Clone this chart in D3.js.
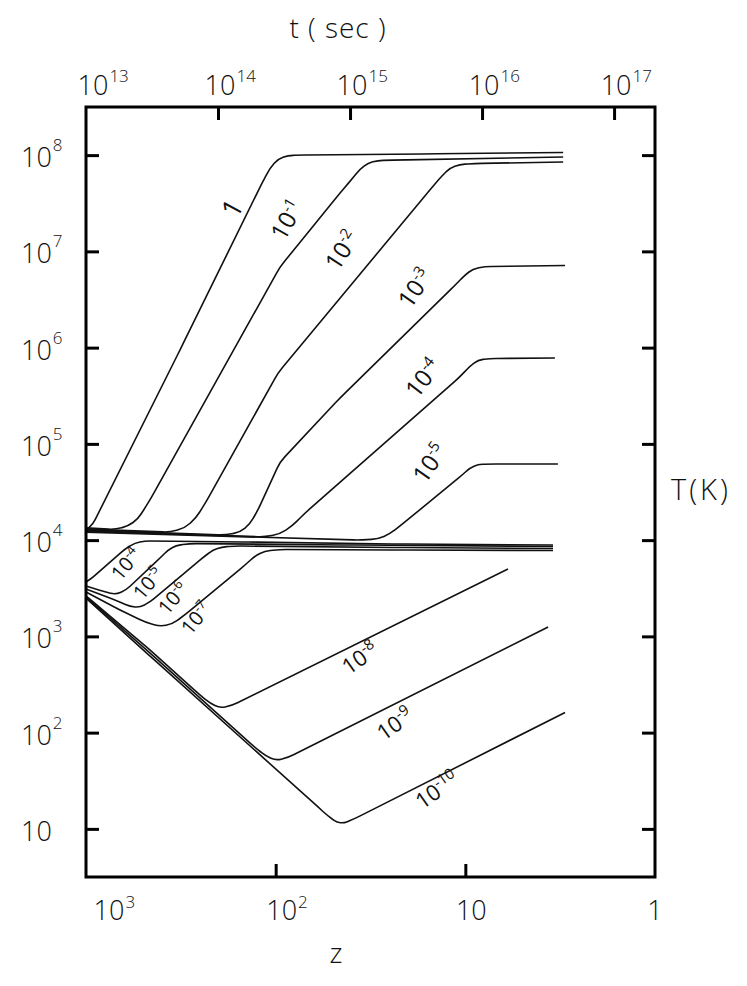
<!DOCTYPE html>
<html><head><meta charset="utf-8">
<script src="https://cdn.jsdelivr.net/npm/d3@7"></script>
<style>body{margin:0;background:#fff}svg text{font-family:'Open Sans','DejaVu Sans',sans-serif;font-weight:300;fill:#111}</style>
</head><body><svg id="c" width="747" height="986"></svg>
<script>
// ---------- DATA ----------
const zTicks = [1000, 100, 10, 1];
const zTickBase = ["10", "10", "10", "1"];
const zTickExp = ["3", "2", "", ""];
const tTicks = [1e13, 1e14, 1e15, 1e16, 1e17];
const tTickBase = ["10", "10", "10", "10", "10"];
const tTickExp = ["13", "14", "15", "16", "17"];
const TTicks = [1e8, 1e7, 1e6, 1e5, 1e4, 1e3, 1e2, 10];
const TTickBase = ["10", "10", "10", "10", "10", "10", "10", "10"];
const TTickExp = ["8", "7", "6", "5", "4", "3", "2", ""];

// series: [z, T(K)]  (upper family)
const heat_1 = [[1000,1.27e4],[919,1.47e4],[319.5,9.45e5],[118,5.13e7],[107,7.35e7],[97.2,9.11e7],[86.1,9.91e7],[74.4,1.0e8],[15.4,1.03e8],[3.05,1.065e8]];
const heat_m1 = [[1000,1.34e4],[703,1.29e4],[600,1.40e4],[532,1.66e4],[460,2.61e4],[94.9,6.88e6],[45.8,4.04e7],[39.6,5.65e7],[35.9,7.17e7],[32.6,8.28e7],[28.9,8.80e7],[22.1,8.90e7],[3.05,9.56e7]];
const heat_m2 = [[1000,1.30e4],[361,1.21e4],[301,1.34e4],[263,1.70e4],[233,2.49e4],[97.2,5.45e5],[15.4,4.34e7],[13.3,6.07e7],[12.05,7.35e7],[10.7,7.99e7],[8.89,8.19e7],[3.05,8.48e7]];
const heat_m3 = [[1000,1.27e4],[185,1.13e4],[154,1.21e4],[136.6,1.47e4],[124,2.06e4],[94.9,6.48e4],[45.8,3.00e5],[11.3,4.47e6],[10.04,5.68e6],[9.11,6.56e6],[7.88,6.96e6],[2.98,7.13e6]];
const heat_m4 = [[1000,1.24e4],[114,1.08e4],[94.9,1.16e4],[82.0,1.40e4],[70.0,1.91e4],[10.7,4.95e5],[9.45,6.44e5],[8.57,7.43e5],[7.41,7.71e5],[3.37,7.80e5]];
const heat_m5 = [[1000,1.21e4],[35.9,1.00e4],[28.9,1.03e4],[25.0,1.16e4],[22.1,1.40e4],[10.4,4.75e4],[9.45,5.62e4],[8.57,6.11e4],[7.41,6.18e4],[3.25,6.18e4]];
// lower family
const low_m4 = [[1000,3.67e3],[930,4.04e3],[623,8.09e3],[552,9.34e3],[489,9.79e3],[136.6,9.56e3],[22.1,9.11e3],[3.45,8.90e3]];
const low_m5 = [[1000,3.34e3],[794,2.89e3],[695,2.72e3],[615,3.03e3],[407,6.52e3],[369,7.90e3],[335,8.80e3],[283,9.22e3],[40.6,8.90e3],[3.45,8.59e3]];
const low_m6 = [[1000,3.11e3],[703,2.39e3],[586,2.04e3],[519,2.00e3],[460,2.28e3],[236,6.84e3],[214,7.90e3],[192,8.48e3],[164,8.69e3],[22.1,8.38e3],[3.45,8.19e3]];
const low_m7 = [[1000,2.89e3],[662,1.88e3],[489,1.41e3],[407,1.27e3],[352,1.34e3],[301,1.67e3],[145,5.51e3],[128.5,6.84e3],[114,7.71e3],[94.9,7.99e3],[22.1,7.90e3],[3.45,7.80e3]];
const low_m8 = [[1000,2.63e3],[460,722],[251,246],[222,203],[197,180],[170,191],[5.96,5.01e3]];
const low_m9 = [[1000,2.57e3],[460,672],[128.5,70.0],[112.5,57.2],[99.6,51.3],[86.1,55.2],[3.66,1.25e3]];
const low_m10 = [[1000,2.50e3],[460,625],[59.8,16.9],[53.0,13.6],[47.5,11.65],[43.6,11.5],[38.2,12.8],[2.98,162]];

const allSeries = [heat_1, heat_m1, heat_m2, heat_m3, heat_m4, heat_m5, low_m4, low_m5, low_m6, low_m7, low_m8, low_m9, low_m10];

// curve labels (anchor in data units)
const labelBase = ["1","10","10","10","10","10","10","10","10","10","10","10","10"];
const labelExp  = ["","-1","-2","-3","-4","-5","-4","-5","-6","-7","-8","-9","-10"];
const labelZ    = [170, 87.2, 44.7, 18.4, 16.7, 15.4, 615, 471, 348, 263, 35.9, 23.5, 14.1];
const labelT    = [2.82e7, 2.12e7, 1.03e7, 4.16e6, 4.83e5, 6.33e4, 5.65e3, 3.58e3, 2.50e3, 1.55e3, 596, 123, 25.3];

// ---------- CHART ----------
const L = 86, R = 655, T0 = 107, B = 877;
const svg = d3.select("#c");
const x = d3.scaleLog().domain([1000, 1]).range([L, R]);
const y = d3.scaleLog().domain([Math.pow(10, 0.5), Math.pow(10, 8.5)]).range([B, T0]);
const tx = d3.scaleLog().domain([1e13, Math.pow(10, 17.31)]).range([L, R]);

// polyline through scaled points, with small rounded joins
function roundedPath(series) {
  const p = series.map(d => [x(d[0]), y(d[1])]);
  const path = d3.path();
  path.moveTo(p[0][0], p[0][1]);
  for (let i = 1; i < p.length - 1; i++) {
    const a = p[i - 1], b = p[i], c = p[i + 1];
    const l1 = Math.hypot(b[0] - a[0], b[1] - a[1]), l2 = Math.hypot(c[0] - b[0], c[1] - b[1]);
    const r = Math.min(7, l1 / 2, l2 / 2);
    const p1 = [b[0] - (b[0] - a[0]) / l1 * r, b[1] - (b[1] - a[1]) / l1 * r];
    const p2 = [b[0] + (c[0] - b[0]) / l2 * r, b[1] + (c[1] - b[1]) / l2 * r];
    path.lineTo(p1[0], p1[1]);
    path.quadraticCurveTo(b[0], b[1], p2[0], p2[1]);
  }
  const e = p[p.length - 1];
  path.lineTo(e[0], e[1]);
  return path.toString();
}
svg.append("g").selectAll("path").data(allSeries).join("path")
  .attr("d", roundedPath).attr("fill", "none").attr("stroke", "#111").attr("stroke-width", 1.6)
  .attr("stroke-linejoin", "round");

// frame
svg.append("rect").attr("x", L).attr("y", T0).attr("width", R - L).attr("height", B - T0)
  .attr("fill", "none").attr("stroke", "#000").attr("stroke-width", 3);

// axes ticks (inward)
const tk = 13;
const leftAx = svg.append("g").attr("transform", `translate(${L},0)`)
  .call(d3.axisRight(y).tickValues(TTicks).tickSize(tk).tickFormat(""));
const rightAx = svg.append("g").attr("transform", `translate(${R},0)`)
  .call(d3.axisLeft(y).tickValues(TTicks).tickSize(tk).tickFormat(""));
const botAx = svg.append("g").attr("transform", `translate(0,${B})`)
  .call(d3.axisTop(x).tickValues(zTicks.slice(1, 3)).tickSize(tk).tickFormat(""));
const topAx = svg.append("g").attr("transform", `translate(0,${T0})`)
  .call(d3.axisBottom(tx).tickValues(tTicks.slice(1)).tickSize(tk).tickFormat(""));
[leftAx, rightAx, botAx, topAx].forEach(g => {
  g.select(".domain").remove();
  g.selectAll("line").attr("stroke", "#000").attr("stroke-width", 3);
});

// helper for "10^n" labels centred on base
function powLabel(cx, by, base, exp, fs, efs, edy) {
  const t = svg.append("text").attr("x", cx).attr("y", by).attr("font-size", fs)
    .attr("text-anchor", "middle").text(base);
  const w = t.node().getComputedTextLength();
  if (exp) svg.append("text").attr("x", cx + w / 2 + 1).attr("y", by + edy)
    .attr("font-size", efs).text(exp);
}
// top axis labels
tTicks.forEach((v, i) => {
  const cx = Math.max(tx(v) + 2, L + 7);
  powLabel(cx, 95, tTickBase[i], tTickExp[i], 27, 17, -13);
});
// bottom axis labels
zTicks.forEach((v, i) => {
  let cx = x(v) + 6;
  if (i === 0) cx = x(v) + 23;
  if (i === zTicks.length - 1) cx = x(v);
  powLabel(cx, 920, zTickBase[i], zTickExp[i], 27, 17, -12);
});
// left axis labels
TTicks.forEach((v, i) => {
  const t = svg.append("text").attr("x", 21).attr("y", y(v) + 12).attr("font-size", 27).text(TTickBase[i]);
  const w = t.node().getComputedTextLength();
  if (TTickExp[i]) svg.append("text").attr("x", 21 + w + 1).attr("y", y(v) - 4)
    .attr("font-size", 17).text(TTickExp[i]);
});

// titles
svg.append("text").attr("x", 338).attr("y", 38).attr("font-size", 28).attr("letter-spacing", 1)
  .attr("text-anchor", "middle").text("t ( sec )");
svg.append("text").attr("x", 336).attr("y", 963).attr("font-size", 28).attr("text-anchor", "middle").text("z");
svg.append("text").attr("x", 671).attr("y", 500).attr("font-size", 29).attr("letter-spacing", 3).text("T(K)");

// curve labels
const rot = [-62, -60, -57, -55, -52, -55, -50, -50, -50, -50, -35, -35, -35];
labelBase.forEach((b, i) => {
  const small = i >= 6 && i <= 9;
  const fs = i === 0 ? 27 : (small ? 20 : (i >= 10 ? 22 : 24));
  const efs = small ? 13 : 15;
  const g = svg.append("g")
    .attr("transform", `translate(${x(labelZ[i])},${y(labelT[i])}) rotate(${rot[i]})`);
  const t = g.append("text").attr("text-anchor", "middle").attr("y", fs * 0.36)
    .attr("font-size", fs).style("font-weight", 400);
  t.append("tspan").text(b);
  if (labelExp[i]) t.append("tspan").attr("font-size", efs).attr("dy", -fs * 0.4).text(labelExp[i]);
});
</script></body></html>
